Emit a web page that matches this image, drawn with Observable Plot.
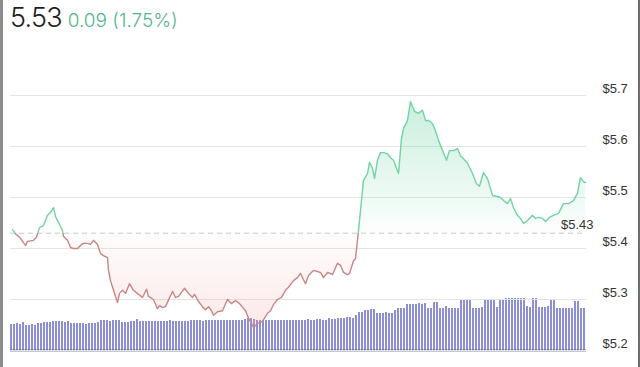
<!DOCTYPE html>
<html>
<head>
<meta charset="utf-8">
<script src="https://cdn.jsdelivr.net/npm/d3@7"></script>
<script src="https://cdn.jsdelivr.net/npm/@observablehq/plot@0.6"></script>
<style>
  body { margin: 0; background: #fff; }
  #wrap { position: relative; width: 640px; height: 367px; overflow: hidden; background: #fff; }
  #wrap svg { position: absolute; left: 0; top: 0; }
  #hdr { position: absolute; left: 10px; top: 1px; white-space: nowrap; z-index: 5; font-family: Inter, "Open Sans", sans-serif; }
  #hdr .big { font-size: 27px; color: #1e1e1e; letter-spacing: -0.8px; font-weight: 300; }
  #hdr .chg { font-size: 19px; color: #55b48e; margin-left: 6px; font-weight: 300; }
  #lb { position: absolute; left: 0; top: 0; width: 3px; height: 367px; background: #8c8c8c; z-index: 6; }
  #rb { position: absolute; right: 0; top: 0; width: 2px; height: 367px; background: #6e6e6e; z-index: 6; }
</style>
</head>
<body>
<div id="wrap">
  <div id="lb"></div><div id="rb"></div>
  <div id="hdr"><span class="big" id="last"></span><span class="chg" id="chg"></span></div>
</div>
<script>
// ---- header values ----
const lastPrice = "5.53";
const changeText = "0.09 (1.75%)";
const baseline = 5.43;
const yTicks = [5.2, 5.3, 5.4, 5.5, 5.6, 5.7];

// ---- price series (hours since start, price) ----
const hours = [0.083,0.208,0.417,0.625,0.708,0.958,1.083,1.208,1.375,1.542,1.667,1.792,1.875,2.0,2.167,2.208,2.375,2.5,2.625,2.792,2.917,3.042,3.208,3.333,3.458,3.625,3.75,3.875,4.042,4.083,4.167,4.292,4.458,4.542,4.667,4.792,4.958,5.125,5.333,5.5,5.667,5.75,5.958,6.125,6.208,6.333,6.458,6.75,6.875,7.0,7.25,7.417,7.583,7.667,7.833,8.0,8.125,8.25,8.375,8.458,8.625,8.833,9.042,9.208,9.375,9.542,9.792,9.917,10.042,10.125,10.292,10.5,10.708,10.833,10.958,11.125,11.292,11.458,11.583,11.792,11.958,12.083,12.292,12.417,12.625,12.917,13.042,13.208,13.417,13.625,13.75,13.875,14.042,14.125,14.292,14.375,14.5,14.625,14.708,14.875,14.958,15.083,15.167,15.292,15.417,15.542,15.708,15.833,15.958,16.167,16.292,16.375,16.542,16.667,16.833,17.0,17.167,17.292,17.417,17.583,17.708,17.833,18.0,18.167,18.292,18.458,18.625,18.75,18.875,19.042,19.25,19.417,19.542,19.708,19.875,20.083,20.292,20.417,20.542,20.708,20.833,20.958,21.125,21.25,21.375,21.542,21.75,21.875,22.0,22.167,22.292,22.458,22.625,22.833,23.042,23.25,23.458,23.625,23.75,23.875,23.958];
const prices = [5.437,5.429,5.420,5.406,5.414,5.416,5.422,5.441,5.445,5.465,5.471,5.480,5.463,5.451,5.435,5.424,5.416,5.402,5.400,5.400,5.406,5.410,5.410,5.408,5.416,5.408,5.390,5.386,5.382,5.357,5.337,5.318,5.294,5.312,5.318,5.312,5.331,5.318,5.310,5.304,5.320,5.306,5.300,5.282,5.288,5.284,5.286,5.316,5.304,5.306,5.322,5.312,5.304,5.310,5.296,5.286,5.280,5.286,5.278,5.269,5.276,5.278,5.300,5.292,5.298,5.292,5.278,5.263,5.253,5.245,5.253,5.257,5.273,5.278,5.290,5.300,5.304,5.318,5.324,5.337,5.343,5.351,5.331,5.347,5.357,5.353,5.343,5.353,5.349,5.371,5.367,5.353,5.349,5.351,5.376,5.380,5.435,5.494,5.533,5.547,5.569,5.557,5.537,5.573,5.588,5.588,5.586,5.578,5.573,5.547,5.616,5.635,5.651,5.688,5.669,5.665,5.671,5.651,5.651,5.645,5.631,5.612,5.592,5.573,5.592,5.592,5.596,5.582,5.576,5.567,5.547,5.527,5.522,5.549,5.537,5.504,5.502,5.500,5.494,5.488,5.498,5.480,5.465,5.459,5.449,5.455,5.465,5.459,5.461,5.459,5.453,5.461,5.465,5.469,5.488,5.488,5.494,5.508,5.539,5.531,5.529];

// ---- volume bars (relative units) ----
const volumes = [
  26,26,27,26,28,25,25,26,25,27,
  27,28,28,28,29,29,29,29,28,29,
  27,27,27,27,27,26,27,27,27,28,
  30,30,30,29,30,30,30,28,28,28,
  29,29,31,29,29,29,29,29,29,29,
  29,29,29,30,29,29,29,29,29,29,
  30,30,30,30,29,30,30,30,30,30,
  30,30,30,30,30,30,30,30,31,32,
  32,31,30,30,30,30,30,30,30,30,
  30,30,30,30,30,30,30,30,30,31,
  30,30,31,31,30,30,32,31,31,32,
  32,32,33,33,32,35,38,38,40,40,
  41,41,37,37,37,38,37,37,40,42,
  42,42,46,46,46,46,47,46,47,42,
  42,48,48,42,42,44,42,42,42,42,
  50,50,50,50,42,42,42,43,51,51,
  51,51,43,51,51,52,52,52,52,52,
  52,52,44,43,52,52,43,43,43,44,
  50,50,42,42,42,42,42,42,49,49,
  42,42
];

document.getElementById("last").textContent = lastPrice;
document.getElementById("chg").textContent = changeText;

const data = hours.map((h, i) => ({h, p: prices[i]}));
const pMax = d3.max(prices), pMin = d3.min(prices);
const t = (pMax - baseline) / (pMax - pMin);

const W = 640, H = 367;
const common = {width: W, height: H, marginLeft: 10, marginRight: 54, marginBottom: 17};

// volume chart (underneath)
const volChart = Plot.plot({
  ...common,
  marginTop: 250,
  style: {background: "transparent"},
  x: {domain: d3.range(volumes.length), axis: null, paddingInner: 0.25, paddingOuter: 0},
  y: {domain: [0, 100], axis: null},
  marks: [
    Plot.barY(volumes.map((v, i) => ({i, v})), {x: "i", y: "v", fill: "#8c8ed6"}),
    Plot.ruleY([0], {stroke: "#1f1f3f", strokeWidth: 1.5})
  ]
});

// gradient defs
function defs() {
  const g = d3.create("svg:defs");
  const lg = g.append("linearGradient").attr("id", "lineGrad")
    .attr("x1", 0).attr("y1", 0).attr("x2", 0).attr("y2", 1);
  lg.append("stop").attr("offset", 0).attr("stop-color", "#72d3a5");
  lg.append("stop").attr("offset", t).attr("stop-color", "#72d3a5");
  lg.append("stop").attr("offset", t).attr("stop-color", "#c98585");
  lg.append("stop").attr("offset", 1).attr("stop-color", "#c98585");
  const fg = g.append("linearGradient").attr("id", "fillGrad")
    .attr("x1", 0).attr("y1", 0).attr("x2", 0).attr("y2", 1);
  fg.append("stop").attr("offset", 0).attr("stop-color", "#7fd9ae").attr("stop-opacity", 0.42);
  fg.append("stop").attr("offset", t).attr("stop-color", "#7fd9ae").attr("stop-opacity", 0.02);
  fg.append("stop").attr("offset", t).attr("stop-color", "#f0a3a0").attr("stop-opacity", 0.02);
  fg.append("stop").attr("offset", 1).attr("stop-color", "#f0a3a0").attr("stop-opacity", 0.24);
  return g.node();
}

const priceChart = Plot.plot({
  ...common,
  marginTop: 95,
  style: {background: "transparent", fontFamily: "'Liberation Sans', Arial, sans-serif", fontSize: "13px"},
  x: {domain: [0, 24], axis: null},
  y: {domain: [5.2, 5.7], axis: null},
  marks: [
    defs,
    Plot.ruleY(yTicks, {stroke: "#e4e4e4", strokeWidth: 1}),
    Plot.ruleY([baseline], {stroke: "#c9c9c9", strokeDasharray: "5,4"}),
    Plot.areaY(data, {x: "h", y1: () => baseline, y2: "p", fill: "url(#fillGrad)"}),
    Plot.line(data, {x: "h", y: "p", stroke: "url(#lineGrad)", strokeWidth: 1.4}),
    Plot.text(yTicks, {x: () => 24, y: d => d, text: d => "$" + d.toFixed(1), textAnchor: "start", dx: 16, dy: -7, fill: "#333", fontSize: 13}),
    Plot.text([baseline], {x: () => 24, y: d => d, text: d => "$" + d.toFixed(2), textAnchor: "end", dx: 7, dy: -8, fill: "#333", fontSize: 13})
  ]
});

const wrap = document.getElementById("wrap");
wrap.insertBefore(priceChart, wrap.firstChild);
wrap.insertBefore(volChart, wrap.firstChild);
</script>
</body>
</html>
